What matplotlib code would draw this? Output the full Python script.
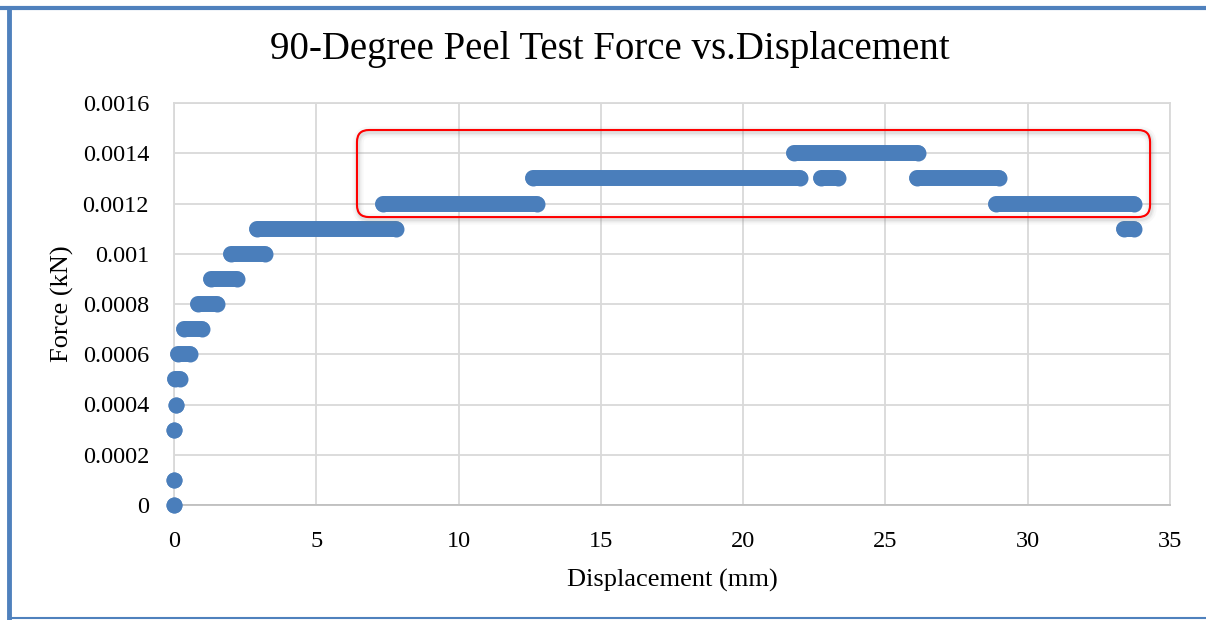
import matplotlib.pyplot as plt
from matplotlib.patches import FancyBboxPatch
from matplotlib.lines import Line2D

# force plateaus: (start mm, end mm, force kN)
seg_start = [0.0, 0.0, 0.0, 0.07, 0.05, 0.15, 0.35, 0.85, 1.3, 2.0, 2.9,
             7.35, 12.6, 22.75, 21.8, 26.1, 28.9, 33.4]
seg_end = [0.0, 0.0, 0.0, 0.07, 0.2, 0.55, 1.0, 1.5, 2.2, 3.2, 7.8,
           12.75, 22.0, 23.35, 26.15, 29.0, 33.75, 33.75]
seg_force = [0.0, 0.0001, 0.0003, 0.0004, 0.0005, 0.0006, 0.0007, 0.0008,
             0.0009, 0.001, 0.0011, 0.0012, 0.0013, 0.0013, 0.0014, 0.0013,
             0.0012, 0.0011]

x_ticks = [0, 5, 10, 15, 20, 25, 30, 35]
y_ticks = [0, 0.0002, 0.0004, 0.0006, 0.0008, 0.001, 0.0012, 0.0014, 0.0016]
y_labels = ["0", "0.0002", "0.0004", "0.0006", "0.0008", "0.001", "0.0012",
            "0.0014", "0.0016"]

# highlighted region (data units)
box_x = (6.43, 34.3)
box_y = (0.001146, 0.0014925)

blue = "#4a7ebb"
grid_c = "#d9d9d9"
plt.rcParams["font.family"] = ["Liberation Serif", "DejaVu Serif"]

fig = plt.figure(figsize=(12.06, 6.2), dpi=100)
W, H = 1206, 620
ax = fig.add_axes([174 / W, 1 - 505 / H, (1170 - 174) / W, (505 - 103) / H])

for xs, xe, f in zip(seg_start, seg_end, seg_force):
    ax.plot([xs, xe], [f, f], color=blue, lw=11.5, solid_capstyle="round",
            marker="o", ms=11.5, mew=0, zorder=3, clip_on=False)

ax.set_xlim(0, 35)
ax.set_ylim(0, 0.0016)
ax.set_xticks(x_ticks)
ax.set_xticklabels([str(v) for v in x_ticks], fontsize=17.5)
ax.set_yticks(y_ticks)
ax.set_yticklabels(y_labels, fontsize=17.5)
ax.tick_params(axis="y", length=0, pad=18)
ax.tick_params(axis="x", length=0, pad=19)
ax.grid(True, color=grid_c, lw=1.3)
ax.set_axisbelow(True)
for s in ax.spines.values():
    s.set_color(grid_c)
    s.set_linewidth(1.3)
ax.spines["bottom"].set_color("#bfbfbf")

ax.set_xlabel("Displacement (mm)", fontsize=19, labelpad=12)
ax.set_ylabel("Force (kN)", fontsize=19, labelpad=6)
fig.text(0.506, 1 - 50 / H, "90-Degree Peel Test Force vs.Displacement",
         ha="center", va="center", fontsize=28)

# red rounded box, converted to figure coordinates so the corners stay round
fig.canvas.draw()
to_fig = ax.transData + fig.transFigure.inverted()
(x0, y0), (x1, y1) = to_fig.transform([(box_x[0], box_y[0]), (box_x[1], box_y[1])])
pad = 12 / W
box_kw = dict(boxstyle=f"round,pad={pad}", mutation_aspect=W / H,
              transform=fig.transFigure, fill=False)
for lw, a in [(8, 0.05), (5, 0.08), (3, 0.12)]:
    fig.patches.append(FancyBboxPatch((x0 + pad + 1 / W, y0 + pad * W / H - 2 / H),
                                      x1 - x0 - 2 * pad, y1 - y0 - 2 * pad * W / H,
                                      ec="#808080", lw=lw, alpha=a, zorder=4, **box_kw))
fig.patches.append(FancyBboxPatch((x0 + pad, y0 + pad * W / H),
                                  x1 - x0 - 2 * pad, y1 - y0 - 2 * pad * W / H,
                                  ec="#ff0000", lw=1.5, zorder=5, **box_kw))

# outer frame (top, left, bottom)
frame_c = "#4f81bd"
fig.lines.append(Line2D([0, 1], [1 - 8 / H, 1 - 8 / H], color=frame_c, lw=3,
                        transform=fig.transFigure))
fig.lines.append(Line2D([9 / W, 9 / W], [1 - 8 / H, 1 - 618 / H], color=frame_c,
                        lw=3.5, transform=fig.transFigure))
fig.lines.append(Line2D([9 / W, 1], [1 - 618 / H, 1 - 618 / H], color=frame_c,
                        lw=1.5, transform=fig.transFigure))

fig.savefig("out.png", dpi=100)
